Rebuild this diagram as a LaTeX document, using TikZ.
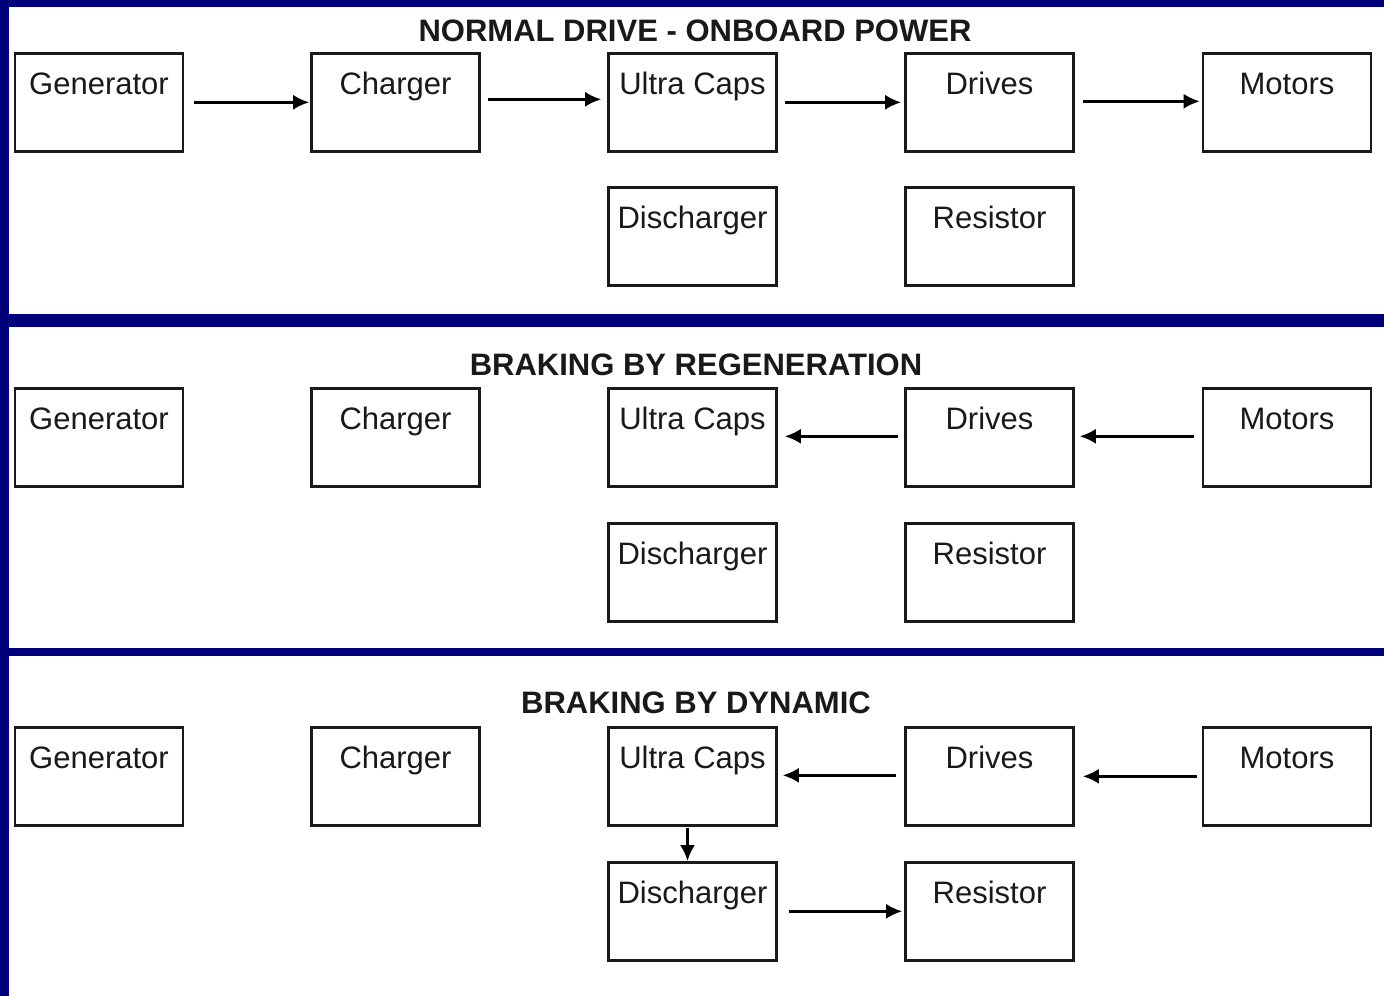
\documentclass[tikz,border=0pt]{standalone}
\usepackage{fontspec}
\setmainfont{Liberation Sans}
\usetikzlibrary{arrows.meta}
\definecolor{navy}{RGB}{0,0,122}
\definecolor{ink}{RGB}{25,25,25}
\tikzset{
  box/.style={draw=ink, line width=2.6pt, minimum width=168pt, inner xsep=0pt, inner ysep=0pt,
    text height=41pt, text depth=57pt, text=ink, font=\fontsize{31}{36}\selectfont, anchor=north},
  ttl/.style={anchor=base, text=ink, font=\fontsize{31}{36}\selectfont\bfseries, inner sep=0pt},
  arr/.style={draw=black, line width=2.5pt, -{Latex[length=16pt,width=15pt]}},
  band/.style={fill=navy, draw=none}
}
\begin{document}
\begin{tikzpicture}[x=1pt,y=-1pt]
\useasboundingbox (0,0) rectangle (1384,996);
\fill[white] (0,0) rectangle (1384,996);
% bands
\fill[band] (0,0) rectangle (9,996);
\fill[band] (0,0) rectangle (1384,7);
\fill[band] (0,314) rectangle (1384,327);
\fill[band] (0,648) rectangle (1384,656);
% titles
\node[ttl] (t1) at (695,41) {NORMAL DRIVE - ONBOARD POWER};
\node[ttl] (t2) at (696,375) {BRAKING BY REGENERATION};
\node[ttl] (t3) at (696,713) {BRAKING BY DYNAMIC};
% section 1
\node[box] (g1) at (99,52) {Generator};
\node[box] (c1) at (395.5,52) {Charger};
\node[box] (u1) at (692.5,52) {Ultra Caps};
\node[box] (d1) at (989.5,52) {Drives};
\node[box] (m1) at (1287,52) {Motors};
\node[box] (x1) at (692.5,186) {Discharger};
\node[box] (r1) at (989.5,186) {Resistor};
% section 2
\node[box] (g2) at (99,387) {Generator};
\node[box] (c2) at (395.5,387) {Charger};
\node[box] (u2) at (692.5,387) {Ultra Caps};
\node[box] (d2) at (989.5,387) {Drives};
\node[box] (m2) at (1287,387) {Motors};
\node[box] (x2) at (692.5,522) {Discharger};
\node[box] (r2) at (989.5,522) {Resistor};
% section 3
\node[box] (g3) at (99,726) {Generator};
\node[box] (c3) at (395.5,726) {Charger};
\node[box] (u3) at (692.5,726) {Ultra Caps};
\node[box] (d3) at (989.5,726) {Drives};
\node[box] (m3) at (1287,726) {Motors};
\node[box] (x3) at (692.5,861) {Discharger};
\node[box] (r3) at (989.5,861) {Resistor};
% arrows section 1
\draw[arr, shorten <=10pt, shorten >=1pt] (g1.east) -- (c1.west);
\draw[arr, shorten <=7pt, shorten >=6pt] ([yshift=3pt]c1.east) -- ([yshift=3pt]u1.west);
\draw[arr, shorten <=7pt, shorten >=3pt] (u1.east) -- (d1.west);
\draw[arr, shorten <=8pt, shorten >=2pt] ([yshift=1pt]d1.east) -- ([yshift=1pt]m1.west);
% arrows section 2
\draw[arr, shorten <=6pt, shorten >=7pt] ([yshift=1pt]d2.west) -- ([yshift=1pt]u2.east);
\draw[arr, shorten <=8pt, shorten >=5pt] ([yshift=1pt]m2.west) -- ([yshift=1pt]d2.east);
% arrows section 3
\draw[arr, shorten <=8pt, shorten >=5pt] ([yshift=1pt]d3.west) -- ([yshift=1pt]u3.east);
\draw[arr, shorten <=5pt, shorten >=8pt] (m3.west) -- (d3.east);
\draw[arr, shorten <=1pt, shorten >=0pt] ([xshift=-5pt]u3.south) -- ([xshift=-5pt]x3.north);
\draw[arr, shorten <=11pt, shorten >=2pt] (x3.east) -- (r3.west);
\end{tikzpicture}
\end{document}
